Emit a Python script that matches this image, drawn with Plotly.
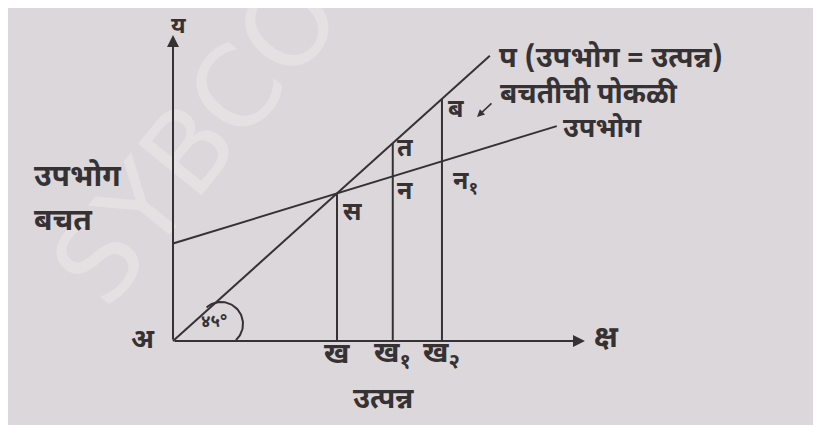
import numpy as np
import plotly.graph_objects as go

# ---------------- data (economic diagram values) ----------------
x_axis_end = 12.56          # length of income (क्ष) axis
y_axis_end = 10.37          # length of consumption/saving (य) axis
line45_end = 9.66           # end of the 45° line (उपभोग = उत्पन्न)
cons_intercept = 3.3        # autonomous consumption
mpc = 0.34                  # slope of consumption line
cons_end = 11.7             # end of consumption line
income_levels = [5.0, 6.7, 8.2]          # ख, ख१, ख२
income_labels = ["ख", "ख<sub>१</sub>", "ख<sub>२</sub>"]

# screen-pixel scale of the diagram (page body has an 8px margin)
SX, SY = 32.8, 29.52
OX, OY = 173, 341
PAGE_W, PAGE_H, BODY_MARGIN = 821, 425, 8
W, H = PAGE_W - BODY_MARGIN, PAGE_H - BODY_MARGIN


def dx(px):
    return (px - OX) / SX


def dy(py):
    return (OY - py) / SY


INK = "#363234"
PAPER = "#dcd7da"
FONT = "Noto Sans Devanagari, Noto Sans, sans-serif"

fig = go.Figure()

# 45 degree line
fig.add_trace(go.Scatter(x=[0, line45_end], y=[0, line45_end], mode="lines",
                         line=dict(color=INK, width=2), hoverinfo="skip"))
# consumption line
cx = np.array([0, cons_end])
fig.add_trace(go.Scatter(x=cx, y=cons_intercept + mpc * cx, mode="lines",
                         line=dict(color=INK, width=2), hoverinfo="skip"))
# verticals
for i, xv in enumerate(income_levels):
    top = xv if i > 0 else cons_intercept + mpc * xv
    fig.add_trace(go.Scatter(x=[xv, xv], y=[0, top], mode="lines",
                             line=dict(color=INK, width=2), hoverinfo="skip"))

# 45° arc marker
cxp, cyp, r = 221, 324, 22
th = np.radians(np.linspace(131, -47, 60))
fig.add_trace(go.Scatter(x=dx(cxp + r * np.cos(th)), y=dy(cyp - r * np.sin(th)),
                         mode="lines", line=dict(color=INK, width=2), hoverinfo="skip"))

ann = []
# faint watermark (drawn first)
ann.append(dict(x=dx(196), y=dy(140), xref="x", yref="y", text="SYBCO", showarrow=False,
                textangle=-51, font=dict(family="DejaVu Sans", size=112,
                                         color="rgba(255,255,255,0.25)")))
# axes with arrows
ann.append(dict(x=x_axis_end, y=0, ax=0, ay=0, axref="x", ayref="y", xref="x", yref="y",
                text="", showarrow=True, arrowhead=2, arrowsize=1.2, arrowwidth=2, arrowcolor=INK))
ann.append(dict(x=0, y=y_axis_end, ax=0, ay=0, axref="x", ayref="y", xref="x", yref="y",
                text="", showarrow=True, arrowhead=2, arrowsize=1.2, arrowwidth=2, arrowcolor=INK))
# pointer arrow for saving gap
ann.append(dict(x=dx(477), y=dy(117), ax=dx(493), ay=dy(102), axref="x", ayref="y",
                xref="x", yref="y", text="", showarrow=True, arrowhead=2, arrowsize=1,
                arrowwidth=1.5, arrowcolor=INK))


def lab(px, py, text, size=30, anchor="center"):
    ann.append(dict(x=dx(px), y=dy(py), xref="x", yref="y", text=text, showarrow=False,
                    xanchor=anchor, yanchor="middle",
                    font=dict(family=FONT, size=size, color=INK, weight="bold")))


lab(178, 27, "य", 23)
lab(606, 339, "क्ष", 30)
lab(143, 341, "अ", 27)
lab(32, 178, "उपभोग", 30, anchor="left")
lab(32, 222, "बचत", 30, anchor="left")
lab(352, 214, "स", 25)
lab(405, 150, "त", 25)
lab(405, 193, "न", 25)
lab(456, 111, "ब", 25)
lab(451, 184, "न<sub>१</sub>", 25, anchor="left")
for xv, t in zip(income_levels, income_labels):
    ann.append(dict(x=xv, y=dy(356), xref="x", yref="y", text=t, showarrow=False,
                    xanchor="center", yanchor="middle",
                    font=dict(family=FONT, size=29, color=INK, weight="bold")))
lab(383, 401, "उत्पन्न", 29)
lab(497, 60, "प (उपभोग = उत्पन्न)", 29, anchor="left")
lab(498, 95, "बचतीची पोकळी", 28, anchor="left")
lab(561, 130, "उपभोग", 27, anchor="left")
lab(214, 323, "४५°", 17)

fig.update_layout(
    width=W, height=H, margin=dict(l=0, r=0, t=0, b=0),
    paper_bgcolor=PAPER, plot_bgcolor="rgba(0,0,0,0)",
    showlegend=False, annotations=ann,
    xaxis=dict(range=[dx(BODY_MARGIN), dx(PAGE_W)], visible=False, fixedrange=True),
    yaxis=dict(range=[dy(PAGE_H), dy(BODY_MARGIN)], visible=False, fixedrange=True),
)

fig.write_html("out.html")
